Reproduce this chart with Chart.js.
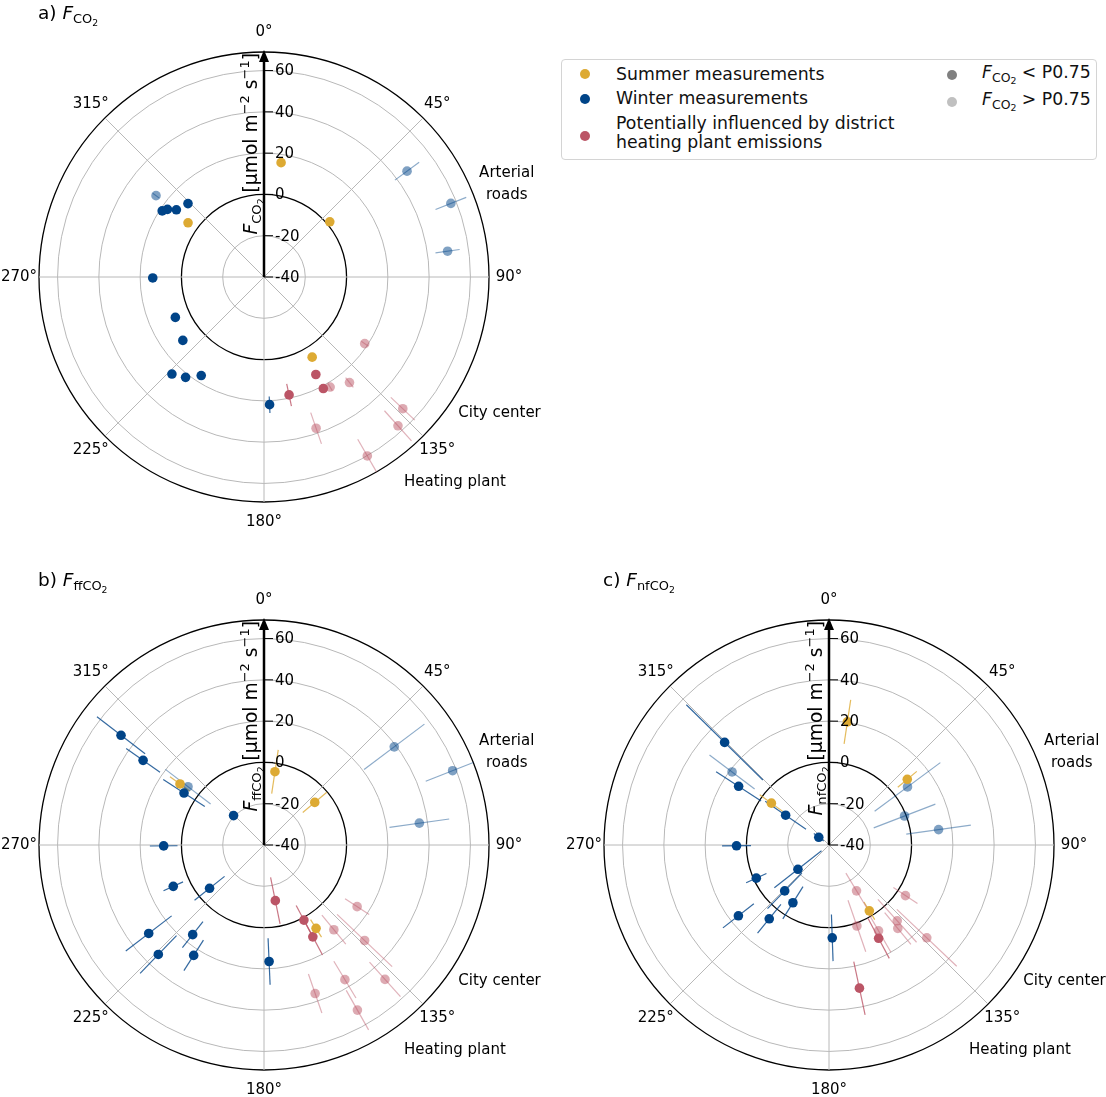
<!DOCTYPE html>
<html>
<head>
<meta charset="utf-8">
<script src="https://cdn.jsdelivr.net/npm/chart.js@4.4.1/dist/chart.umd.min.js"></script>
<style>
  body { margin: 0; background: #fff; font-family: "DejaVu Sans", sans-serif; }
  #page { position: relative; width: 1106px; height: 1097px; overflow: hidden; }
  canvas { position: absolute; }
  #legend { position: absolute; left: 561px; top: 59px; width: 534px; height: 99px; border: 1px solid #d4d4d4; border-radius: 4px; }
  .dot { position: absolute; width: 10px; height: 10px; border-radius: 50%; }
  .lt { position: absolute; font-size: 17.3px; line-height: 20px; color: #111; white-space: nowrap; }
  .s1 { font-size: 0.72em; vertical-align: -0.3em; }
  .s2 { font-size: 0.75em; vertical-align: -0.2em; }
</style>
</head>
<body>
<div id="page">
  <canvas id="chartA" width="548" height="560" style="left:0;top:0"></canvas>
  <canvas id="chartB" width="548" height="537" style="left:0;top:560px"></canvas>
  <canvas id="chartC" width="546" height="537" style="left:560px;top:560px"></canvas>

  <div id="legend"></div>
  <div class="dot" style="left:580px;top:69px;background:#DDAA33"></div>
  <div class="lt" style="left:616px;top:64px">Summer measurements</div>
  <div class="dot" style="left:580px;top:94px;background:#004488"></div>
  <div class="lt" style="left:616px;top:88px">Winter measurements</div>
  <div class="dot" style="left:580px;top:131px;background:#BB5566"></div>
  <div class="lt" style="left:616px;top:114px;line-height:18.5px">Potentially influenced by district<br>heating plant emissions</div>
  <div class="dot" style="left:947px;top:70px;background:#808080"></div>
  <div class="lt" style="left:982px;top:62px"><i>F</i><span class="s1">CO<span class="s2">2</span></span> &lt; P0.75</div>
  <div class="dot" style="left:947px;top:97px;background:#c0c0c0"></div>
  <div class="lt" style="left:982px;top:89px"><i>F</i><span class="s1">CO<span class="s2">2</span></span> &gt; P0.75</div>
</div>

<script>
// wind direction (deg), flux (umol m-2 s-1), error, group (S summer, W winter, H heating plant), faded (> P0.75)
const aDir   = [8.5, 50, 305.7, 148.8, 306.9, 302.8, 304.9, 307.4, 314.2, 269.4, 245.5, 232, 223.7, 218.2, 212.3, 177.7, 53.3, 68.5, 82.0, 123.5, 151.8, 151.8, 149.2, 140.9, 168, 133.6, 137.9, 161, 150.2];
const aFlux  = [16.0, 1.6, 5.2, 5.3, 25.5, 18.8, 17.1, 13.5, 11.2, 13.9, 7.2, 9.9, 24.8, 21.7, 16.6, 21.9, 46.2, 57.3, 49.8, 18.5, 13.5, 21.2, 22.2, 25.8, 18.4, 52.7, 57.0, 37.5, 60.1];
const aErr   = [1, 1, 1, 1, 2, 1, 1, 1, 1, 1, 1, 1, 2, 2, 1, 4, 7.3, 8, 5.9, 2, 1, 2, 2, 3, 5.5, 8, 9.8, 8, 9.3];
const aGroup = ['S','S','S','S','W','W','W','W','W','W','W','W','W','W','W','W','W','W','W','H','H','H','H','H','H','H','H','H','H'];
const aFaded = [0, 0, 0, 0, 1, 0, 0, 0, 0, 0, 0, 0, 0, 0, 0, 0, 1, 1, 1, 1, 0, 0, 1, 1, 0, 1, 1, 1, 1];

const bDir   = [8.4, 50, 305.9, 148.2, 307.7, 305.1, 307.4, 303.2, 313.8, 269.4, 245.5, 231.5, 232.5, 218.6, 223.8, 212.4, 177.6, 53.2, 68.5, 82, 168.3, 151.8, 152, 123.5, 140.6, 133.5, 137.9, 149.1, 161, 150.3];
const bFlux  = [-4.1, -7.9, 10.3, 7.6, 47.3, 31.5, 6.4, 6.2, -19.5, 8.6, 8.3, -6.3, 30.4, 15.5, 33.7, 23.4, 16.5, 39.0, 58.2, 36.0, -12.5, 1.2, 10.4, 14.1, 13.2, 27.2, 47.6, 36.1, 36.1, 51.9];
const bErr   = [10.7, 7.6, 6, 5, 14.7, 10, 13.8, 12, 2, 6.7, 5.2, 9.3, 14, 8, 12.7, 8.8, 11.3, 18.3, 14, 14.6, 11.5, 8, 10, 7, 9.1, 18.4, 11.2, 10.4, 10, 11];
const bGroup = ['S','S','S','S','W','W','W','W','W','W','W','W','W','W','W','W','W','W','W','W','H','H','H','H','H','H','H','H','H','H'];
const bFaded = [0, 0, 0, 0, 0, 0, 1, 0, 0, 0, 0, 0, 0, 0, 0, 0, 0, 1, 1, 1, 0, 0, 0, 1, 1, 1, 1, 1, 1, 1];

const cDir   = [8.4, 49.8, 305.8, 148.7, 314.3, 306.9, 303.2, 304.6, 307, 269.6, 245.6, 232.1, 223.9, 212.1, 231.8, 218.8, 177.8, 53.4, 68.8, 82.1, 149.1, 123.5, 160.8, 149.8, 151.9, 138.1, 140.6, 133.3, 168.1];
const cFlux  = [20.3, 9.5, -5.5, -2.6, 30.9, 18.8, 12.2, -14.5, -33.8, 4.8, -1.3, -20.9, -9.1, -7.0, 15.7, 6.0, 5.0, 7.3, -0.8, 13.6, -14.1, 4.4, 1.5, 8.0, 11.2, 9.4, 12.4, 25.3, 30.9];
const cErr   = [10.8, 6, 7, 5, 26, 13.7, 13, 12, 3, 7, 5.4, 14.5, 12, 9.2, 9.5, 9, 11.3, 19.8, 16, 15.8, 10, 7, 13.2, 12, 11, 14, 10, 20, 13.2];
const cGroup = ['S','S','S','S','W','W','W','W','W','W','W','W','W','W','W','W','W','W','W','W','H','H','H','H','H','H','H','H','H'];
const cFaded = [0, 0, 0, 0, 0, 1, 0, 0, 0, 0, 0, 0, 0, 0, 0, 0, 0, 1, 1, 1, 1, 1, 1, 1, 0, 1, 1, 1, 0];

const degTicks = [0, 45, 90, 135, 180, 225, 270, 315];
const fluxTicks = [-40, -20, 0, 20, 40, 60];
const ringTicks = [-40, -20, 0, 20, 40, 60, 69];
const rMin = -40, rMax = 69;

const annText = [['Arterial', 'roads'], ['City center'], ['Heating plant']];
const annDir = [68.8, 120, 137];
const annGap = [35, 47, 55];

const groupColor = { S: '#DDAA33', W: '#004488', H: '#BB5566' };
const angleRes = 2; // two slots per degree
const nAngles = 360 * angleRes;
const angleLabels = [];
for (let i = 0; i < nAngles; i++) angleLabels.push(String(i / angleRes));

const FONT = '"DejaVu Sans"';

function rgba(hex, a) {
    const n = parseInt(hex.slice(1), 16);
    return `rgba(${n >> 16},${(n >> 8) & 255},${n & 255},${a})`;
}

// draw a list of text runs (with sub/superscripts) starting at x, baseline y
function drawRich(ctx, runs, x, y, align) {
    let total = 0;
    runs.forEach(r => {
        ctx.font = `${r.it ? 'italic ' : ''}${r.s}px ${FONT}`;
        total += ctx.measureText(r.t).width;
    });
    let px = align === 'right' ? x - total : x;
    ctx.textAlign = 'left';
    ctx.textBaseline = 'alphabetic';
    runs.forEach(r => {
        ctx.font = `${r.it ? 'italic ' : ''}${r.s}px ${FONT}`;
        ctx.fillText(r.t, px, y + (r.dy || 0));
        px += ctx.measureText(r.t).width;
    });
}

function fluxRuns(sub, size) {
    return [
        { t: 'F', s: size, it: true },
        { t: sub, s: size * 0.7, dy: size * 0.22 },
        { t: '2', s: size * 0.5, dy: size * 0.36 }
    ];
}

const polarExtras = {
    id: 'polarExtras',
    beforeDatasetsDraw(chart) {
        const r = chart.scales.r, ctx = chart.ctx;
        ctx.save();
        ctx.lineWidth = 1.2;
        chart.data.datasets.forEach(ds => {
            ctx.strokeStyle = ds.errColor;
            ds.errors.forEach((e, i) => {
                if (e == null) return;
                const v = ds.data[i];
                const p1 = r.getPointPositionForValue(i, Math.max(v - e, rMin));
                const p2 = r.getPointPositionForValue(i, Math.min(v + e, rMax));
                ctx.beginPath();
                ctx.moveTo(p1.x, p1.y);
                ctx.lineTo(p2.x, p2.y);
                ctx.stroke();
            });
        });
        ctx.restore();
    },
    afterDraw(chart, args, opts) {
        const r = chart.scales.r, ctx = chart.ctx;
        const cx = r.xCenter, cy = r.yCenter, R = r.drawingArea;
        ctx.save();
        ctx.fillStyle = '#000';
        ctx.strokeStyle = '#000';

        // arrow along 0 deg
        ctx.lineWidth = 2.5;
        ctx.beginPath();
        ctx.moveTo(cx, cy);
        ctx.lineTo(cx, cy - R + 8);
        ctx.stroke();
        ctx.beginPath();
        ctx.moveTo(cx, cy - R - 2);
        ctx.lineTo(cx - 5, cy - R + 10);
        ctx.lineTo(cx + 5, cy - R + 10);
        ctx.closePath();
        ctx.fill();

        // flux ticks on the arrow
        ctx.lineWidth = 1;
        ctx.font = `15px ${FONT}`;
        ctx.textAlign = 'left';
        ctx.textBaseline = 'middle';
        fluxTicks.forEach(v => {
            const y = cy - r.getDistanceFromCenterForValue(v);
            ctx.beginPath();
            ctx.moveTo(cx, y);
            ctx.lineTo(cx + 9, y);
            ctx.stroke();
            ctx.fillText(String(v), cx + 11, y + 1);
        });

        // direction labels
        ctx.textAlign = 'center';
        degTicks.forEach(d => {
            const p = r.getPointPosition(d * angleRes, R + 20);
            ctx.fillText(d + '°', p.x, p.y);
        });

        // place annotations
        annText.forEach((lines, k) => {
            const p = r.getPointPosition(Math.round(annDir[k] * angleRes), R + annGap[k]);
            lines.forEach((t, j) => {
                ctx.fillText(t, p.x, p.y + (j - (lines.length - 1) / 2) * 22);
            });
        });

        // rotated axis label
        ctx.save();
        ctx.translate(cx - 7, cy - R + 1);
        ctx.rotate(-Math.PI / 2);
        const lab = fluxRuns(opts.sub, 18.7).concat([
            { t: ' [µmol m', s: 18.7 },
            { t: '\u22122', s: 13, dy: -8 },
            { t: ' s', s: 18.7 },
            { t: '\u22121', s: 13, dy: -8 },
            { t: ']', s: 18.7 }
        ]);
        drawRich(ctx, lab, 0, 0, 'right');
        ctx.restore();

        // panel title
        drawRich(ctx, [{ t: opts.tag + ' ', s: 18.5 }].concat(fluxRuns(opts.sub, 18.5)), opts.titleX, opts.titleY, 'left');
        ctx.restore();
    }
};

function makePanel(id, tag, sub, dir, flux, err, group, faded, pad, titleX, titleY) {
    const datasets = [];
    dir.forEach((d, k) => {
        const idx = Math.round(d * angleRes) % nAngles;
        let ds = datasets.find(s => s.grp === group[k] && s.fad === faded[k] && s.data[idx] === null);
        if (!ds) {
            const col = groupColor[group[k]];
            ds = {
                grp: group[k],
                fad: faded[k],
                data: new Array(nAngles).fill(null),
                errors: new Array(nAngles).fill(null),
                pointBackgroundColor: rgba(col, faded[k] ? 0.5 : 1),
                pointBorderWidth: 0,
                pointRadius: 4.8,
                showLine: false,
                fill: false,
                borderWidth: 0,
                errColor: rgba(col, faded[k] ? 0.45 : 0.8)
            };
            datasets.push(ds);
        }
        ds.data[idx] = flux[k];
        ds.errors[idx] = err[k];
    });
    // solid markers first so they end up on top
    datasets.sort((a, b) => a.fad - b.fad);

    const isDark = v => v === 0 || v === rMax;

    return new Chart(document.getElementById(id), {
        type: 'radar',
        data: { labels: angleLabels, datasets },
        plugins: [polarExtras],
        options: {
            responsive: false,
            animation: false,
            events: [],
            layout: { padding: pad },
            plugins: {
                legend: { display: false },
                tooltip: { enabled: false },
                polarExtras: { tag, sub, titleX, titleY }
            },
            scales: {
                r: {
                    min: rMin,
                    max: rMax,
                    startAngle: 0,
                    afterBuildTicks: s => { s.ticks = ringTicks.map(v => ({ value: v })); },
                    ticks: { display: false },
                    pointLabels: { display: false, callback: () => '' },
                    grid: {
                        circular: true,
                        color: c => isDark(c.tick.value) ? '#000' : '#b8b8b8',
                        lineWidth: c => isDark(c.tick.value) ? 1.3 : 1
                    },
                    angleLines: {
                        color: '#b8b8b8',
                        lineWidth: c => (c.index % (45 * angleRes) === 0) ? 1 : 0
                    }
                }
            }
        }
    });
}

makePanel('chartA', 'a)', 'CO', aDir, aFlux, aErr, aGroup, aFaded, { left: 39, right: 59, top: 52, bottom: 58 }, 38, 19);
makePanel('chartB', 'b)', 'ffCO', bDir, bFlux, bErr, bGroup, bFaded, { left: 39, right: 59, top: 60, bottom: 27 }, 38, 26);
makePanel('chartC', 'c)', 'nfCO', cDir, cFlux, cErr, cGroup, cFaded, { left: 44, right: 52, top: 60, bottom: 27 }, 43, 26);
</script>
</body>
</html>
